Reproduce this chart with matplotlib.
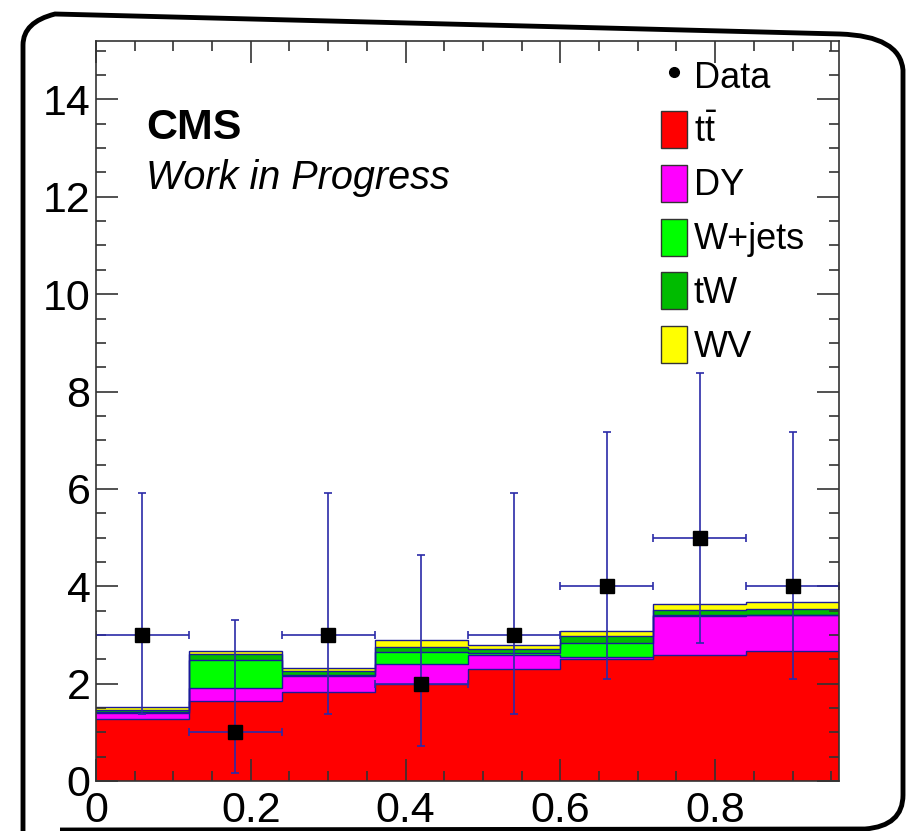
import numpy as np
import matplotlib
matplotlib.use("Agg")
import matplotlib.pyplot as plt
from matplotlib.patches import Patch, PathPatch
from matplotlib.lines import Line2D
from matplotlib.path import Path
from matplotlib.ticker import MultipleLocator

# ---- data ----
bin_edges = [0.0, 0.12, 0.24, 0.36, 0.48, 0.60, 0.72, 0.84, 0.96]
ttbar  = [1.27, 1.64, 1.83, 2.00, 2.31, 2.51, 2.59, 2.67]
dy     = [0.12, 0.28, 0.33, 0.40, 0.28, 0.04, 0.80, 0.73]
wjets  = [0.03, 0.57, 0.02, 0.26, 0.04, 0.28, 0.02, 0.02]
tw     = [0.04, 0.11, 0.07, 0.10, 0.08, 0.14, 0.10, 0.11]
wv     = [0.05, 0.07, 0.08, 0.14, 0.09, 0.11, 0.12, 0.15]
data_y = [3, 1, 3, 2, 3, 4, 5, 4]
data_lo = [1.63, 0.83, 1.63, 1.29, 1.63, 1.91, 2.16, 1.91]
data_hi = [2.92, 2.30, 2.92, 2.64, 2.92, 3.16, 3.38, 3.16]
labels = ["t$\\bar{\\mathrm{t}}$", "DY", "W+jets", "tW", "WV"]
colors = ["#ff0000", "#ff00ff", "#00ff00", "#00bb00", "#ffff00"]

plt.rcParams['font.family'] = ['Liberation Sans', 'DejaVu Sans']
plt.rcParams['mathtext.fontset'] = 'custom'
plt.rcParams['mathtext.rm'] = 'Liberation Sans'

W, H = 907, 831
fig = plt.figure(figsize=(W / 100, H / 100), dpi=100)
ax = fig.add_axes([96 / W, 1 - 781 / H, (839 - 96) / W, (781 - 41) / H])

edges = np.array(bin_edges)
comps = [ttbar, dy, wjets, tw, wv]
cum = np.zeros(len(ttbar))
tops = []
for vals in comps:
    cum = cum + np.array(vals)
    tops.append(cum.copy())
# draw from total down (ROOT THStack style)
line_col = "#1a1a99"
for top, col in reversed(list(zip(tops, colors))):
    ax.stairs(top, edges, baseline=0, fill=True, color=col, zorder=1)
    ax.stairs(top, edges, baseline=None, color=line_col, lw=1.0, zorder=2)

centers = 0.5 * (edges[:-1] + edges[1:])
xerr = 0.5 * np.diff(edges)
ax.errorbar(centers, data_y, xerr=xerr, yerr=[data_lo, data_hi], fmt='none',
            ecolor="#2b2ba8", elinewidth=1.2, capsize=3, capthick=1.2, zorder=3)
ax.plot(centers, data_y, 's', color='black', ms=10, zorder=4)

ax.set_xlim(0, 0.96)
ax.set_ylim(0, 15.2)
ax.xaxis.set_major_locator(MultipleLocator(0.2))
ax.xaxis.set_minor_locator(MultipleLocator(0.05))
ax.yaxis.set_major_locator(MultipleLocator(2))
ax.yaxis.set_minor_locator(MultipleLocator(0.5))
ax.tick_params(which='both', direction='in', top=True, right=True, width=1.2, color='#333333')
ax.tick_params(which='major', length=15.5)
ax.tick_params(which='minor', length=7.5)
ax.tick_params(axis='both', labelsize=31, pad=4)
ax.tick_params(axis='x', pad=7)
ax.set_xticks([0, 0.2, 0.4, 0.6, 0.8])
ax.set_xticklabels(["0", "0.2", "0.4", "0.6", "0.8"])
for sp in ax.spines.values():
    sp.set_linewidth(1.2)
    sp.set_color('#333333')
    sp.set_zorder(5)
ax.set_axisbelow(False)

ax.text((146 - 96) / (839 - 96), (781 - 128) / 740, "CMS", transform=ax.transAxes,
        fontsize=31, fontweight='bold', va='center', ha='left')
ax.text((146 - 96) / (839 - 96), (781 - 178) / 740, "Work in Progress", transform=ax.transAxes,
        fontsize=28.5, fontstyle='italic', va='center', ha='left')

handles = [Line2D([], [], ls='none', marker='o', color='black', ms=7)]
handles += [Patch(facecolor=c, edgecolor='#333333', lw=1) for c in colors]
leg = ax.legend(handles, ["Data"] + labels, loc='upper left',
                bbox_to_anchor=((661 - 96) / (839 - 96), (781 - 57) / 740),
                frameon=False, fontsize=26, handlelength=0.71, handleheight=1.2,
                handletextpad=0.2, labelspacing=0.42, borderpad=0, borderaxespad=0)

# rounded outer frame (screenshot border)
def P(x, y):
    return (x / W, 1 - y / H)
verts = [P(23, 835), P(23, 45), P(23, 22), P(55, 14), P(840, 34), P(900, 36), P(903, 70),
         P(903, 795), P(903, 826), P(865, 829), P(60, 830)]
codes = [Path.MOVETO, Path.LINETO, Path.CURVE3, Path.CURVE3, Path.LINETO, Path.CURVE3, Path.CURVE3,
         Path.LINETO, Path.CURVE3, Path.CURVE3, Path.LINETO]
fig.add_artist(PathPatch(Path(verts, codes), facecolor='none', edgecolor='black', lw=3.5,
                         transform=fig.transFigure, zorder=-1))

fig.savefig("out.png", dpi=100)
